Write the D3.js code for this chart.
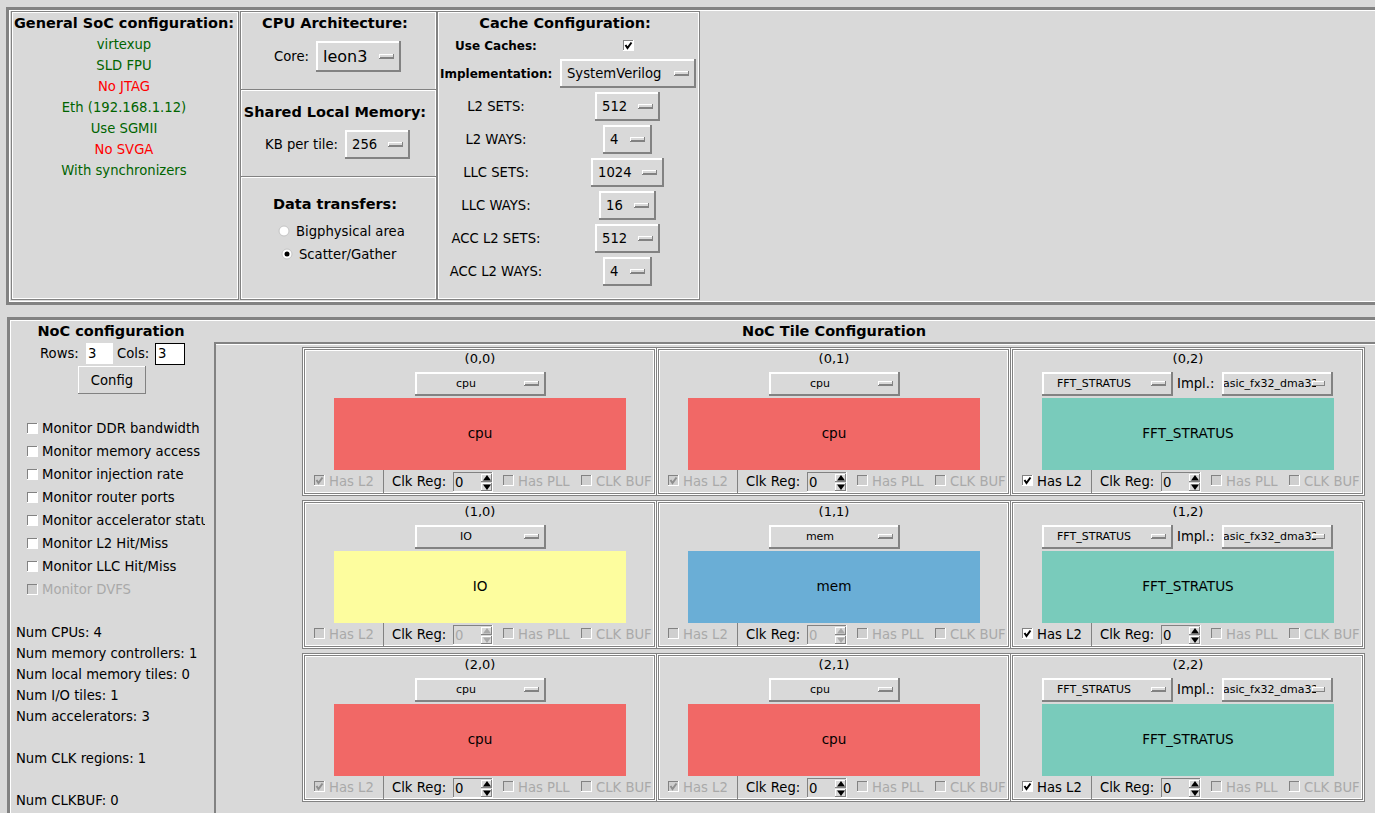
<!DOCTYPE html>
<html>
<head>
<meta charset="utf-8">
<script src="https://cdn.jsdelivr.net/npm/d3@7"></script>
<style>
  body { margin: 0; background: #d9d9d9; overflow: hidden; }
  text { font-family: "DejaVu Sans"; fill: #000; }
</style>
</head>
<body>
<div id="gui"></div>
<script>
const socLines = ["virtexup", "SLD FPU", "No JTAG", "Eth (192.168.1.12)", "Use SGMII", "No SVGA", "With synchronizers"];
const socOk = [true, true, false, true, true, false, true];
const cacheLabels = ["L2 SETS:", "L2 WAYS:", "LLC SETS:", "LLC WAYS:", "ACC L2 SETS:", "ACC L2 WAYS:"];
const cacheValues = ["512", "4", "1024", "16", "512", "4"];
const cacheWidths = [65, 49, 73, 57, 65, 49];
const monitorLabels = ["Monitor DDR bandwidth", "Monitor memory access", "Monitor injection rate", "Monitor router ports",
  "Monitor accelerator status", "Monitor L2 Hit/Miss", "Monitor LLC Hit/Miss", "Monitor DVFS"];
const statLabels = ["Num CPUs: 4", "Num memory controllers: 1", "Num local memory tiles: 0", "Num I/O tiles: 1",
  "Num accelerators: 3", "", "Num CLK regions: 1", "", "Num CLKBUF: 0"];
const tileTypes = ["cpu", "cpu", "FFT_STRATUS", "IO", "mem", "FFT_STRATUS", "cpu", "cpu", "FFT_STRATUS"];
const typeColors = { cpu: "#f16866", IO: "#fdfd9e", mem: "#6aaed6", FFT_STRATUS: "#79cbbb" };
const gridIdx = [0, 1, 2];

const GRAY = "#828282", FACE = "#d9d9d9", OFF = "#a9a9a9";
const BODY = 13.2, TITLE = 14.5;

const svg = d3.select("#gui").append("svg").attr("width", 1375).attr("height", 813).style("display", "block");
svg.append("rect").attr("width", 1375).attr("height", 813).attr("fill", FACE);
const defs = svg.append("defs");

function box(x, y, w, h, fill) {
  return svg.append("rect").attr("x", x).attr("y", y).attr("width", w).attr("height", h)
    .attr("fill", fill).attr("shape-rendering", "crispEdges");
}
function label(x, y, s, opts = {}) {
  return svg.append("text").attr("x", x).attr("y", y).text(s)
    .attr("dy", "0.36em")
    .attr("text-anchor", opts.anchor || "start")
    .attr("font-size", opts.size || BODY)
    .attr("font-weight", opts.bold ? "bold" : "normal")
    .style("fill", opts.color || "#000");
}
// relief border, tk style
function relief(x, y, w, h, t, tl, br) {
  box(x, y, w, t, tl); box(x, y, t, h, tl);
  box(x, y + h - t, w, t, br); box(x + w - t, y, t, h, br);
}
function panel(x, y, w, h) {
  relief(x, y, w, h, 1, GRAY, GRAY);
  relief(x + 1, y + 1, w - 2, h - 2, 1, "#fff", "#fff");
}
function menu(x, y, w, h, s, size, textX, anchor = "start", textDy = 0) {
  box(x, y, w, h, FACE);
  relief(x, y, w, h, 2, "#fff", GRAY);
  label(textX, y + h / 2 + textDy, s, { size, anchor });
  const ix = x + w - 22;
  const iy = y + h / 2 - 3;
  box(ix, iy, 15, 5, FACE);
  relief(ix, iy, 15, 5, 1, "#fff", GRAY);
  box(ix + 1, iy + 3, 13, 1, GRAY);
}
function checkbox(x, y, on, disabled) {
  box(x, y, 11, 11, disabled ? "#cfcfcf" : "#fff");
  box(x, y, 11, 1, GRAY); box(x, y, 1, 11, GRAY);
  box(x, y + 10, 11, 1, "#fff"); box(x + 10, y, 1, 11, "#fff");
  if (on) {
    svg.append("path").attr("d", d3.line()([[x + 2.5, y + 5], [x + 4.5, y + 8], [x + 8.5, y + 2.5]]))
      .attr("fill", "none").attr("stroke", disabled ? "#8f8f8f" : "#000").attr("stroke-width", 2);
  }
}
function radio(cx, cy, on) {
  svg.append("circle").attr("cx", cx).attr("cy", cy).attr("r", 5).attr("fill", "#fff").attr("stroke", "#c4c4c4");
  if (on) svg.append("circle").attr("cx", cx).attr("cy", cy).attr("r", 2.5).attr("fill", "#000");
}
function spinbox(x, y, val, disabled) {
  box(x, y, 40, 20, FACE);
  box(x, y, 40, 1, GRAY); box(x, y, 1, 20, GRAY);
  box(x, y + 19, 40, 1, "#fff"); box(x + 39, y, 1, 20, "#fff");
  label(x + 2, y + 10, val, { color: disabled ? OFF : "#000" });
  const c = disabled ? OFF : "#000", bx = x + 34;
  [[y + 2, -1], [y + 11, 1]].forEach(([by, dir]) => {
    relief(x + 28, by, 11, 8, 1, "#fff", GRAY);
    const mid = by + 4;
    svg.append("path").attr("fill", c)
      .attr("d", d3.line()([[bx - 4, mid - dir * 2.5], [bx + 4, mid - dir * 2.5], [bx, mid + dir * 3]]) + "Z");
  });
}

// top frame
box(6, 7, 1369, 3, GRAY); box(6, 7, 3, 298, GRAY);
box(9, 10, 1366, 1, "#fff"); box(9, 10, 1, 292, "#fff");
box(9, 301, 1366, 1, "#fff"); box(6, 302, 1369, 3, GRAY);
panel(11, 11, 228, 289);
panel(240, 11, 197, 289);
panel(437, 11, 263, 289);

label(124, 23, "General SoC configuration:", { bold: true, size: TITLE, anchor: "middle" });
socLines.forEach((s, i) => label(124, 44 + i * 21, s, { anchor: "middle", color: socOk[i] ? "#006400" : "#ff0000" }));

label(335, 23, "CPU Architecture:", { bold: true, size: TITLE, anchor: "middle" });
label(274, 56, "Core:");
menu(316, 41, 85, 31, "leon3", 16, 323);
box(241, 89, 195, 1, GRAY); box(241, 90, 195, 1, "#fff");
label(335, 112, "Shared Local Memory:", { bold: true, size: TITLE, anchor: "middle" });
label(265, 144, "KB per tile:");
menu(345, 130, 65, 29, "256", BODY, 352);
box(241, 176, 195, 1, GRAY); box(241, 177, 195, 1, "#fff");
label(335, 204, "Data transfers:", { bold: true, size: TITLE, anchor: "middle" });
radio(284, 231, false);
label(296, 231, "Bigphysical area");
radio(287, 254, true);
label(299, 254, "Scatter/Gather");

label(565, 23, "Cache Configuration:", { bold: true, size: TITLE, anchor: "middle" });
label(496, 45.5, "Use Caches:", { bold: true, size: 12, anchor: "middle" });
checkbox(623, 40, true, false);
label(440, 73.5, "Implementation:", { bold: true, size: 12 });
menu(560, 59, 136, 29, "SystemVerilog", BODY, 567);
cacheLabels.forEach((s, i) => {
  const y = 92 + i * 33, w = cacheWidths[i], x = 627.5 - w / 2;
  label(496, y + 14, s, { anchor: "middle" });
  menu(x, y, w, 29, cacheValues[i], BODY, x + 7);
});

// bottom frame
box(7, 317, 1368, 3, GRAY); box(7, 317, 3, 496, GRAY);
box(10, 320, 1365, 1, "#fff"); box(10, 320, 1, 493, "#fff");

label(111, 331, "NoC configuration", { bold: true, size: TITLE, anchor: "middle" });
label(40, 353, "Rows:");
box(86, 343, 27, 21, "#fff");
label(88, 353, "3");
label(117, 353, "Cols:");
box(155, 343, 30, 22, "#fff");
relief(155, 343, 30, 22, 1, "#000", "#000");
label(158, 353, "3");
relief(78, 366, 68, 28, 1, "#fff", GRAY);
label(112, 380, "Config", { anchor: "middle" });

defs.append("clipPath").attr("id", "clipMon").append("rect").attr("x", 0).attr("y", 400).attr("width", 205).attr("height", 220);
monitorLabels.forEach((s, i) => {
  const y = 428 + i * 23, off = i === 7;
  checkbox(27, y - 5.5, false, off);
  label(42, y, s, { color: off ? OFF : "#000" }).attr("clip-path", "url(#clipMon)");
});
statLabels.forEach((s, i) => { if (s) label(16, 632 + i * 21, s); });

label(834, 331, "NoC Tile Configuration", { bold: true, size: TITLE, anchor: "middle" });
box(214, 342, 1161, 2, GRAY); box(214, 342, 2, 471, GRAY);
box(216, 344, 1159, 1, "#fff");

const colX = d3.scaleLinear().domain([0, 2]).range([303, 1011]);
const rowY = d3.scaleLinear().domain([0, 2]).range([347, 653]);

gridIdx.forEach(r => gridIdx.forEach(c => {
  const x = colX(c), y = rowY(r), type = tileTypes[r * 3 + c];
  const isAcc = type === "FFT_STRATUS", isCpu = type === "cpu";
  relief(x - 1, y, 355, 149, 1, GRAY, GRAY);
  relief(x, y + 1, 353, 147, 1, "#fff", "#fff");
  relief(x + 1, y + 2, 351, 145, 1, GRAY, GRAY);
  relief(x + 2, y + 3, 349, 143, 1, "#fff", "#fff");
  label(x + 177, y + 11, `(${r},${c})`, { size: 13, anchor: "middle" });
  if (isAcc) {
    menu(x + 31, y + 25, 131, 24, type, 11, x + 46, "start", -1);
    label(x + 166, y + 36, "Impl.:");
    const clip = `clipImpl${r}${c}`;
    defs.append("clipPath").attr("id", clip).append("rect")
      .attr("x", x + 213).attr("y", y + 25).attr("width", 92).attr("height", 24);
    box(x + 211, y + 25, 111, 24, FACE);
    relief(x + 211, y + 25, 111, 24, 2, "#fff", GRAY);
    label(x + 205, y + 36, "basic_fx32_dma32", { size: 11 }).attr("clip-path", `url(#${clip})`);
    const ix = x + 301, iy = y + 34;
    box(ix, iy, 13, 5, FACE);
    relief(ix, iy, 13, 5, 1, "#fff", GRAY);
  } else {
    menu(x + 112, y + 25, 131, 24, type, 11, x + 163, "middle", -1);
  }
  box(x + 31, y + 51, 292, 72, typeColors[type]);
  label(x + 177, y + 86, type, { size: 13.6, anchor: "middle" });
  box(x + 79.5, y + 123, 1, 23, GRAY);
  checkbox(x + 11, y + 128, isCpu || isAcc, !isAcc);
  label(x + 26, y + 134, "Has L2", { color: isAcc ? "#000" : OFF });
  label(x + 89, y + 134, "Clk Reg:");
  spinbox(x + 150, y + 125, "0", type === "IO" || type === "mem");
  checkbox(x + 200, y + 128, false, true);
  label(x + 215, y + 134, "Has PLL", { color: OFF });
  checkbox(x + 278, y + 128, false, true);
  label(x + 293, y + 134, "CLK BUF", { color: OFF });
}));
</script>
</body>
</html>
